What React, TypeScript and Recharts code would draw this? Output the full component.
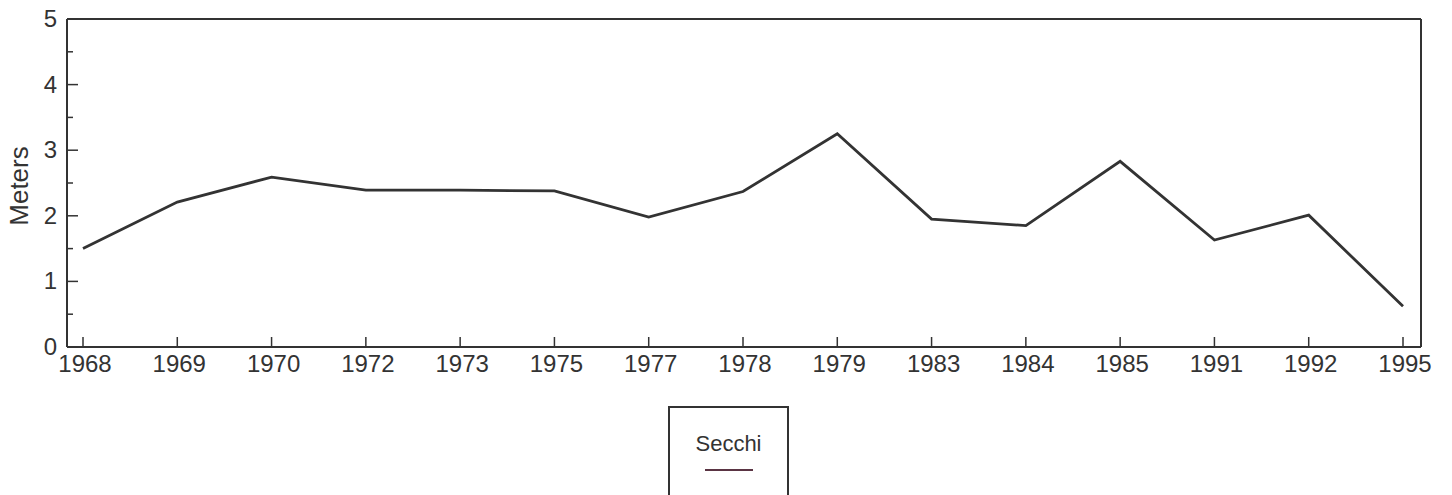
import React from 'react';
import { LineChart, Line, XAxis, YAxis, Legend } from 'recharts';

const years = ['1968', '1969', '1970', '1972', '1973', '1975', '1977', '1978', '1979', '1983', '1984', '1985', '1991', '1992', '1995'];
const secchi = [1.5, 2.21, 2.59, 2.39, 2.39, 2.38, 1.98, 2.37, 3.25, 1.95, 1.85, 2.83, 1.63, 2.01, 0.62];
const yTicks = [0, 0.5, 1, 1.5, 2, 2.5, 3, 3.5, 4, 4.5, 5];

const data = years.map((year, i) => ({ year, secchi: secchi[i] }));

const INK = '#333333';
const FONT = '"Liberation Sans", Arial, sans-serif';

function YTick(props: any) {
  const { x, y, payload } = props;
  const major = Number.isInteger(payload.value);
  const axisX = x + 10;
  return (
    <g>
      <line x1={axisX} x2={axisX + (major ? 11 : 6)} y1={y} y2={y} stroke={INK} strokeWidth={1.5} />
      {major && (
        <text x={x} y={y} dy={8} textAnchor="end" fontSize={24} fill={INK} fontFamily={FONT}>
          {payload.value}
        </text>
      )}
    </g>
  );
}

function XTick(props: any) {
  const { x, y, payload } = props;
  const axisY = y - 4;
  return (
    <g>
      <line x1={x} x2={x} y1={axisY} y2={axisY - 10} stroke={INK} strokeWidth={1.5} />
      <text x={x + 2} y={y} dy={21} textAnchor="middle" fontSize={24} fill={INK} fontFamily={FONT}>
        {payload.value}
      </text>
    </g>
  );
}

// rotated axis title, centred on the plot height
function MetersLabel(props: any) {
  const { viewBox } = props;
  const cy = viewBox.y + viewBox.height / 2 + 3;
  return (
    <text
      x={28}
      y={cy}
      transform={`rotate(-90, 28, ${cy})`}
      textAnchor="middle"
      fontSize={26}
      fill={INK}
      fontFamily={FONT}
    >
      Meters
    </text>
  );
}

function SecchiLegend() {
  return (
    <div
      style={{
        width: 121,
        height: 95,
        border: `2px solid ${INK}`,
        background: '#fff',
        boxSizing: 'border-box',
        fontFamily: FONT,
        textAlign: 'center',
      }}
    >
      <div style={{ fontSize: 22, color: INK, marginTop: 24, lineHeight: '24px' }}>Secchi</div>
      <div style={{ width: 48, height: 2, background: '#5a3443', margin: '13px auto 0' }} />
    </div>
  );
}

export default function App() {
  return (
    <div style={{ position: 'fixed', left: 0, top: 0, width: 1452, height: 495, background: '#fff' }}>
      <LineChart width={1452} height={495} data={data} margin={{ top: 18, right: 30, left: 0, bottom: 108 }}>
        <XAxis
          dataKey="year"
          xAxisId="main"
          height={40}
          padding={{ left: 16, right: 18 }}
          axisLine={{ stroke: INK, strokeWidth: 2 }}
          tickLine={false}
          tickSize={0}
          tickMargin={4}
          interval={0}
          tick={<XTick />}
        />
        <XAxis xAxisId="top" orientation="top" dataKey="year" height={1} tick={false} tickLine={false} axisLine={{ stroke: INK, strokeWidth: 2 }} />
        <YAxis
          yAxisId="main"
          width={67}
          domain={[0, 5]}
          ticks={yTicks}
          interval={0}
          axisLine={{ stroke: INK, strokeWidth: 2 }}
          tickLine={false}
          tickSize={0}
          tickMargin={10}
          tick={<YTick />}
          label={<MetersLabel />}
        />
        <YAxis yAxisId="right" orientation="right" width={1} domain={[0, 5]} tick={false} tickLine={false} axisLine={{ stroke: INK, strokeWidth: 2 }} />
        <Legend
          verticalAlign="middle"
          align="center"
          wrapperStyle={{ position: 'absolute', left: 668, top: 406, width: 121 }}
          content={<SecchiLegend />}
        />
        <Line
          xAxisId="main"
          yAxisId="main"
          type="linear"
          dataKey="secchi"
          name="Secchi"
          stroke={INK}
          strokeWidth={2.8}
          dot={false}
          isAnimationActive={false}
        />
      </LineChart>
    </div>
  );
}
